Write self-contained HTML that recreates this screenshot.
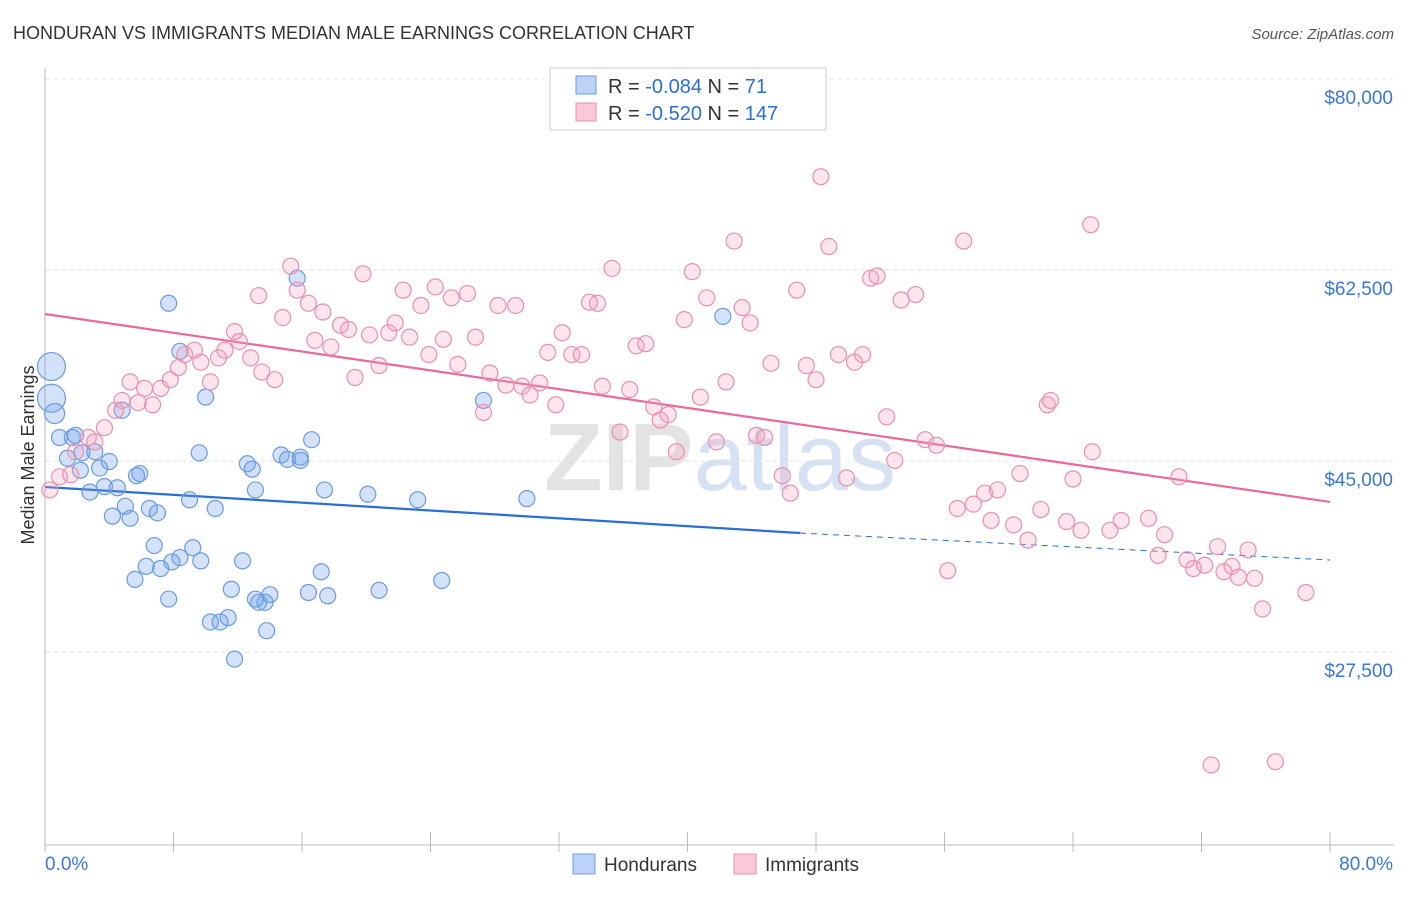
<!DOCTYPE html>
<html><head><meta charset="utf-8"><style>
body{margin:0;background:#fff;font-family:"Liberation Sans",sans-serif;}
svg text{font-family:"Liberation Sans",sans-serif;}
</style></head><body>
<svg id="chart" width="1406" height="892" xmlns="http://www.w3.org/2000/svg">
<text x="13" y="39" font-size="18" fill="#333">HONDURAN VS IMMIGRANTS MEDIAN MALE EARNINGS CORRELATION CHART</text>
<text x="1394" y="39" font-size="15" fill="#555" font-style="italic" text-anchor="end">Source: ZipAtlas.com</text>
<text x="720" y="490" font-size="96" fill="#e3e3e3" text-anchor="middle" font-family="Liberation Serif"><tspan font-weight="bold">ZIP</tspan><tspan fill="#d6e2f3" font-family="Liberation Sans">atlas</tspan></text>
<g id="grid"></g><g id="axes"></g><g id="lines"></g><g id="pts"></g>
<text transform="translate(34,455) rotate(-90)" font-size="18" fill="#333" text-anchor="middle">Median Male Earnings</text>
<g>
<rect x="550" y="68" width="276" height="62" fill="#fff" stroke="#ccc"/>
<rect x="576" y="76" width="20" height="18" fill="#bcd3f5" stroke="#6a9be0"/>
<rect x="576" y="103" width="20" height="18" fill="#f9c9d9" stroke="#e890ae"/>
<text x="608" y="93" font-size="20" fill="#333">R = <tspan fill="#2a6fd6">-0.084</tspan>   N = <tspan fill="#2a6fd6">  71</tspan></text>
<text x="608" y="120" font-size="20" fill="#333">R = <tspan fill="#2a6fd6">-0.520</tspan>   N = <tspan fill="#2a6fd6">147</tspan></text>
</g>
<g>
<rect x="573" y="854" width="22" height="20" fill="#bcd3f5" stroke="#6a9be0"/>
<text x="604" y="871" font-size="19" fill="#333">Hondurans</text>
<rect x="734" y="854" width="22" height="20" fill="#f9c9d9" stroke="#e890ae"/>
<text x="765" y="871" font-size="19" fill="#333">Immigrants</text>
</g>
</svg>
<script>
const yTicks=[80000,62500,45000,27500];
const yTickLabels=["$80,000","$62,500","$45,000","$27,500"];
const xTickLabels=["0.0%","80.0%"];
const blueX=[0.4,0.4,0.6,0.9,1.7,1.9,1.4,2.3,3.1,4.0,3.4,2.2,5.9,5.7,2.8,3.7,4.5,5.0,4.2,5.3,6.5,7.0,9.0,10.6,9.6,10.0,8.4,7.7,4.8,6.8,9.2,8.4,7.9,6.3,7.2,9.7,12.3,5.6,7.7,11.6,13.3,13.7,14.0,13.1,10.3,10.9,11.4,13.8,11.8,12.6,12.9,13.1,14.7,15.1,15.9,16.6,15.9,15.7,17.4,17.2,16.4,17.6,20.1,20.8,23.2,24.7,27.3,30.0,42.2];
const blueY=[55300,52400,51000,48800,48800,49000,46900,47400,47500,46600,46000,45800,45500,45300,43800,44300,44200,42500,41600,41400,42300,41900,43100,42300,47400,52500,56700,61100,51300,38900,38700,37800,37400,37000,36800,37500,37500,35800,34000,34900,33700,33700,34400,34000,31900,31900,32300,31100,28500,46400,45900,44000,47200,46800,46700,48600,47000,63400,44000,36500,34600,34300,43600,34800,43100,35700,52200,43200,59900];
const pinkX=[0.3,0.9,1.6,1.9,2.7,3.1,3.7,4.4,4.8,5.3,5.8,6.2,6.7,7.2,7.8,8.3,8.7,9.3,9.7,10.3,10.8,11.2,11.8,12.1,12.8,13.5,14.3,13.3,14.8,15.3,15.7,16.4,16.8,17.3,17.8,18.4,18.9,19.3,19.8,20.2,20.8,21.4,21.8,22.3,22.7,23.4,23.9,24.3,24.8,25.3,25.7,26.3,26.8,27.3,27.7,28.2,28.7,29.3,29.7,30.2,30.8,31.3,31.8,32.2,32.8,33.4,33.9,34.4,34.7,35.3,35.8,36.4,36.8,37.4,37.9,38.3,38.8,39.3,39.8,40.3,40.8,41.2,41.8,42.4,42.9,43.4,43.9,44.3,44.8,45.2,45.9,46.4,46.8,47.4,48.0,48.3,48.8,49.4,49.9,50.4,50.9,51.4,51.8,52.4,52.9,53.3,54.2,54.8,55.5,56.2,56.8,57.2,57.8,58.5,58.9,59.3,60.3,60.7,61.2,62.0,62.4,62.6,63.6,64.0,64.5,65.1,65.2,66.3,67.0,68.7,69.3,69.7,70.6,71.1,71.5,72.2,72.6,73.0,73.4,73.9,74.3,74.9,75.3,75.8,76.6,78.5];
const pinkY=[44000,45200,45400,47500,48800,48400,49700,51300,52200,53900,52000,53300,51800,53300,54100,55200,56400,56800,55700,53900,56100,56800,58500,57600,56100,54800,54100,61800,59800,64500,62300,61100,57700,60300,57100,59100,58700,54300,63800,58200,55400,58400,59300,62300,58000,60900,56400,62600,57800,61600,55500,62000,58000,51100,54700,60900,53600,60900,53500,52700,53800,56600,51800,58400,56400,56400,61200,61100,53500,64300,49300,53200,57200,57400,51600,50400,50900,47500,59600,64000,52500,61600,48400,53900,66800,60700,59300,49000,48800,55600,45300,43700,62300,55400,54100,72700,66300,56400,45100,55700,56400,63400,63600,50700,46700,61400,61900,48600,48100,36600,42300,66800,42700,43700,41200,44000,40800,45500,39400,42200,51800,52200,41100,45000,40300,68300,47500,40300,41200,41400,38000,39900,45200,37600,36800,37100,18800,38800,36500,37000,36000,38500,35900,33100,19100,34600];
const blueTrend=[[0,44270],[47,40050],[80,37580]];
const pinkTrend=[[0,60120],[80,42900]];
const NS="http://www.w3.org/2000/svg";
function X(v){return 45+v/80*1285;}
function Y(v){return 97+(80000-v)/17500*191;}
function mk(tag,attrs,parent){const e=document.createElementNS(NS,tag);for(const k in attrs)e.setAttribute(k,attrs[k]);document.getElementById(parent).appendChild(e);return e;}
yTicks.forEach((t,i)=>{
  const g=mk('line',{x1:45,x2:1394,y1:Y(t)-18,y2:Y(t)-18,stroke:'#e2e2e2','stroke-dasharray':'4,4'},'grid');
  
  
  const l=mk('text',{x:1393,y:Y(t)+7,'font-size':19,fill:'#3a78d8','text-anchor':'end'},'grid');
  l.textContent=yTickLabels[i];
  
  
});
const ax=mk('line',{x1:45,x2:1394,y1:845,y2:845,stroke:'#bbb'},'axes');


const ay=mk('line',{x1:45,x2:45,y1:68,y2:845,stroke:'#bbb'},'axes');


for(let k=0;k<=10;k++){const t=mk('line',{x1:X(k*8),x2:X(k*8),y1:832,y2:852,stroke:'#bbb'},'axes');

}
const xl0=mk('text',{x:45,y:870,'font-size':19,fill:'#3a78d8'},'axes');xl0.textContent=xTickLabels[0];


const xl1=mk('text',{x:1393,y:870,'font-size':19,fill:'#3a78d8','text-anchor':'end'},'axes');xl1.textContent=xTickLabels[1];


blueX.forEach((x,i)=>{const r=i<2?14:(i==2?10:8);
 const c=mk('circle',{cx:X(x),cy:Y(blueY[i]),r:r,fill:'rgba(110,160,235,0.3)',stroke:'#6a9be0','stroke-width':1.2},'pts');
 
 });
pinkX.forEach((x,i)=>{
 const c=mk('circle',{cx:X(x),cy:Y(pinkY[i]),r:8,fill:'rgba(245,160,190,0.28)',stroke:'#e890ae','stroke-width':1.2},'pts');
 
 });
const b1=mk('line',{x1:X(blueTrend[0][0]),y1:Y(blueTrend[0][1]),x2:X(blueTrend[1][0]),y2:Y(blueTrend[1][1]),stroke:'#2a6fd6','stroke-width':2.2},'lines');


const b2=mk('line',{x1:X(blueTrend[1][0]),y1:Y(blueTrend[1][1]),x2:X(blueTrend[2][0]),y2:Y(blueTrend[2][1]),stroke:'#2a6fd6','stroke-width':1,'stroke-dasharray':'6,5'},'lines');


const p1=mk('line',{x1:X(pinkTrend[0][0]),y1:Y(pinkTrend[0][1]),x2:X(pinkTrend[1][0]),y2:Y(pinkTrend[1][1]),stroke:'#e8699a','stroke-width':2.2},'lines');


</script>
</body></html>
